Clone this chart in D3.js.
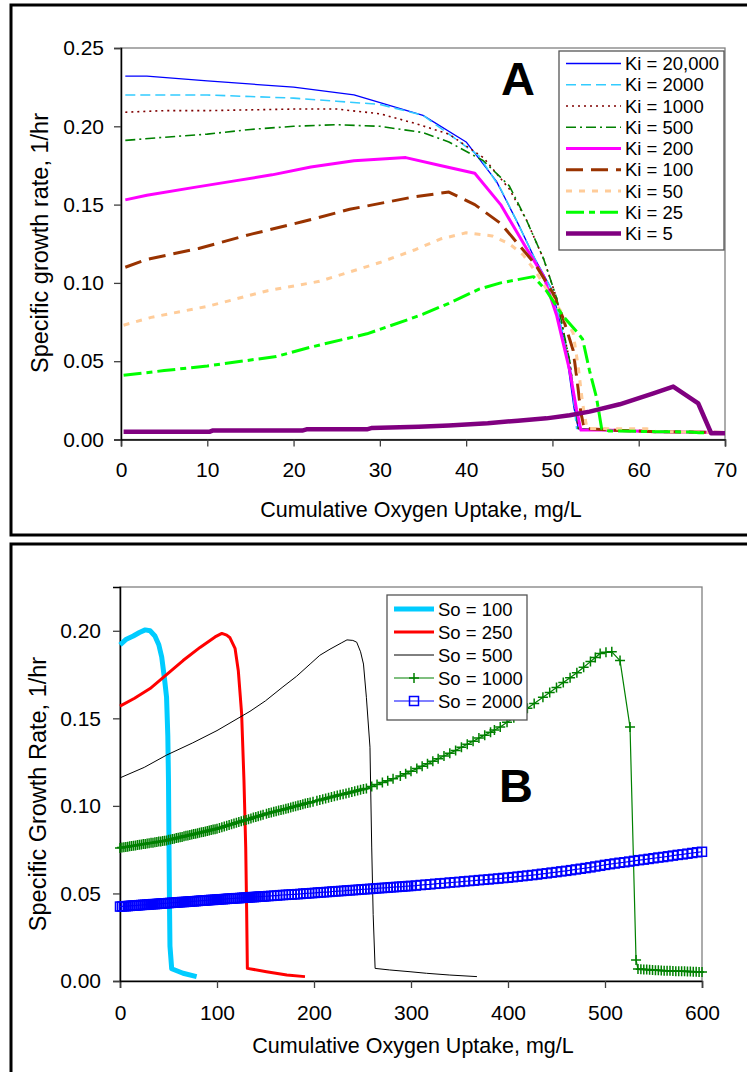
<!DOCTYPE html>
<html>
<head>
<meta charset="utf-8">
<script src="https://cdn.jsdelivr.net/npm/d3@7/dist/d3.min.js"></script>
<style>
    body { margin: 0; background: #fff; }
    svg text { font-family: "Liberation Sans", Arial, sans-serif; fill: #000; }
</style>
</head>
<body>
<div id="chart"></div>
<script>
"use strict";

// ---- panel A : growth rate vs cumulative O2 uptake for several Ki ----
var kiLabels = ["Ki = 20,000", "Ki = 2000", "Ki = 1000", "Ki = 500", "Ki = 200",
                "Ki = 100", "Ki = 50", "Ki = 25", "Ki = 5"];

var ki20000 = [[0.5,0.232],[3,0.232],[10,0.229],[20,0.225],[27,0.220],[35,0.207],[40,0.190],[43.5,0.165],
    [46,0.138],[48,0.115],[50,0.095],[51.5,0.060],[52.5,0.020],[53,0.007],[56,0.006],[62,0.005],[70,0.0045]];
var ki2000 = [[0.5,0.220],[5,0.220],[10,0.220],[15,0.219],[20,0.218],[25,0.216],[30,0.214],[35,0.207],
    [38,0.195],[41.5,0.181],[44,0.160],[46,0.138],[48,0.115],[50,0.095],[52,0.050],[52.8,0.007],[56,0.006],[62,0.005],[70,0.0045]];
var ki1000 = [[0.5,0.209],[5,0.210],[10,0.210],[20,0.211],[25,0.211],[30,0.208],[34,0.202],[38,0.195],
    [42,0.180],[45,0.160],[47,0.140],[49,0.115],[50.5,0.090],[52,0.050],[53,0.007],[56,0.006],[62,0.005],[70,0.0045]];
var ki500 = [[0.5,0.191],[5,0.193],[10,0.195],[15,0.198],[20,0.200],[25,0.201],[30,0.200],[35,0.196],
    [38,0.190],[42,0.178],[45,0.162],[47,0.140],[49,0.115],[50.5,0.090],[52,0.050],[53,0.007],[56,0.006],[62,0.005],[70,0.0045]];
var ki200 = [[0.5,0.153],[3,0.156],[8.5,0.161],[13,0.165],[17.5,0.169],[22,0.174],[27,0.178],[33,0.180],
    [37,0.175],[41,0.170],[44,0.150],[47,0.122],[49,0.104],[50.5,0.079],[52,0.044],[52.8,0.019],[53.3,0.006],[56,0.006],[62,0.005],[70,0.0045]];
var ki100 = [[0.5,0.110],[3,0.115],[9,0.122],[15,0.131],[21,0.139],[26.5,0.147],[34,0.155],[38,0.158],
    [41,0.150],[44,0.138],[46,0.125],[48,0.112],[50,0.094],[51.2,0.078],[52.4,0.057],[52.9,0.036],[53.3,0.017],
    [53.7,0.007],[57,0.006],[62,0.005],[70,0.0045]];
var ki50 = [[0.3,0.073],[3.5,0.078],[10,0.085],[17,0.095],[23,0.101],[30,0.113],[34,0.121],[37,0.128],
    [40,0.132],[43,0.130],[45,0.125],[46.6,0.118],[48.2,0.106],[50,0.090],[51.2,0.080],[52.4,0.068],[53,0.046],
    [53.5,0.023],[54,0.007],[61,0.0068],[62,0.005],[70,0.0045]];
var ki25 = [[0.3,0.041],[5,0.044],[10,0.047],[18,0.053],[22,0.059],[28.5,0.0675],[33.5,0.077],[35,0.080],
    [38,0.087],[41.5,0.096],[44,0.100],[47.8,0.104],[49.3,0.095],[51.2,0.079],[52.8,0.069],[53.5,0.064],
    [54.3,0.044],[55.1,0.027],[55.7,0.007],[56.5,0.0055],[62,0.005],[66,0.0048],[67,0.0043],[70,0.0043]];
var ki5 = [[0.3,0.005],[10.3,0.005],[10.6,0.0057],[21,0.0057],[21.5,0.0065],[28.5,0.0065],[29,0.0073],
    [34.5,0.0082],[38,0.009],[42.5,0.0104],[46,0.012],[49.3,0.0135],[52,0.0155],[54.3,0.0178],[57.8,0.0225],
    [61.7,0.0295],[64,0.0338],[66.9,0.023],[68.4,0.004],[70,0.004]];

var xTicksA = [0, 10, 20, 30, 40, 50, 60, 70];
var yTicksA = [0, 0.05, 0.10, 0.15, 0.20, 0.25];

// ---- panel B : growth rate vs cumulative O2 uptake for several So ----
var soLabels = ["So = 100", "So = 250", "So = 500", "So = 1000", "So = 2000"];

var so100 = [[0,0.192],[6,0.195],[13.7,0.197],[20,0.199],[26,0.2005],[31,0.200],[36,0.197],[40,0.192],
    [43,0.185],[46,0.172],[48,0.162],[49.3,0.140],[50,0.114],[50.5,0.077],[51,0.045],[51.5,0.020],[53.3,0.007],
    [65,0.0044],[79,0.0025]];
var so250 = [[0,0.157],[15,0.1615],[31,0.167],[48,0.175],[65,0.183],[82.5,0.1905],[98,0.1965],[105,0.1985],
    [110,0.1975],[113.4,0.196],[118.6,0.190],[122,0.177],[125.4,0.1525],[127.8,0.1145],[129.6,0.0765],
    [130.6,0.0386],[131.3,0.0072],[151,0.0053],[172,0.0034],[190.7,0.0025]];
var so500 = [[0,0.116],[25,0.122],[48,0.129],[75,0.136],[100,0.143],[134,0.154],[150,0.160],[168,0.168],
    [182,0.174],[196,0.181],[206,0.186],[216.5,0.1895],[228,0.193],[234,0.1948],[240,0.1945],[244,0.1935],
    [248,0.188],[251,0.181],[254,0.162],[257.7,0.1335],[259.5,0.0765],[261,0.038],[263,0.0072],[278,0.0063],
    [299,0.0053],[316,0.0044],[340,0.0034],[368,0.0025]];
var so1000 = [[0,0.0760],[2,0.0762],[4,0.0764],[6,0.0765],[8,0.0767],[10,0.0769],[12,0.0771],[14,0.0772],
    [16,0.0774],[18,0.0776],[20,0.0778],[22,0.0780],[24,0.0782],[26,0.0783],[28,0.0785],[30,0.0787],[32,0.0789],
    [34,0.0790],[36,0.0792],[38,0.0794],[40,0.0796],[42,0.0797],[44,0.0799],[46,0.0801],[48,0.0803],[50,0.0806],
    [52,0.0808],[54,0.0811],[56,0.0813],[58,0.0816],[60,0.0818],[62,0.0821],[64,0.0823],[66,0.0826],[68,0.0829],
    [70,0.0831],[72,0.0834],[74,0.0836],[76,0.0839],[78,0.0841],[80,0.0844],[82,0.0846],[84,0.0849],[86,0.0851],
    [88,0.0854],[90,0.0857],[92,0.0860],[94,0.0862],[96,0.0865],[98,0.0867],[100,0.0870],[102.5,0.0874],
    [105,0.0878],[107.5,0.0882],[110,0.0887],[112.5,0.0891],[115,0.0895],[117.5,0.0899],[120,0.0903],[122.5,0.0908],
    [125,0.0912],[127.5,0.0916],[130,0.0920],[132.5,0.0924],[135,0.0928],[137.5,0.0933],[140,0.0937],[142.5,0.0941],
    [145,0.0945],[147.5,0.0949],[151,0.0955],[153.5,0.0959],[156,0.0962],[158.5,0.0966],[161,0.0969],[163.5,0.0973],
    [166,0.0977],[168.5,0.0980],[171,0.0984],[173.5,0.0987],[176,0.0991],[178.5,0.0995],[181,0.0998],[183.5,0.1002],
    [186,0.1005],[188.5,0.1009],[191,0.1013],[193.5,0.1016],[196,0.1020],[199,0.1024],[203,0.1030],[206,0.1034],
    [209,0.1038],[212,0.1042],[215,0.1047],[218,0.1051],[221,0.1055],[224,0.1059],[227,0.1063],[230,0.1067],
    [233,0.1071],[236,0.1075],[239,0.1079],[242,0.1084],[245,0.1088],[248,0.1092],[251,0.1096],[254,0.1100],
    [259.5,0.1111],[265,0.1122],[270.5,0.1133],[276,0.1144],[281.5,0.1155],[289,0.1170],[294.5,0.1184],[300,0.1198],
    [306,0.1213],[311.5,0.1227],[317,0.1241],[322.5,0.1255],[328,0.1269],[334,0.1285],[340,0.1300],[346,0.1317],
    [352,0.1335],[358,0.1352],[364,0.1369],[370,0.1387],[376,0.1404],[382,0.1421],[386,0.1433],[392,0.1450],
    [399,0.1477],[406,0.1504],[413,0.1531],[420,0.1558],[427,0.1585],[436,0.1620],[443,0.1648],[450,0.1676],
    [457,0.1704],[464,0.1732],[471,0.1760],[478,0.1792],[485,0.1824],[490,0.1847],[495,0.1870],[501,0.1877],
    [507,0.1880],[515.5,0.1830],[525.8,0.1450],[532,0.0120],[534,0.0068],[537,0.0067],[540,0.0066],[543,0.0065],
    [546,0.0064],[549,0.0063],[552,0.0062],[555,0.0061],[558,0.0060],[561,0.0059],[564,0.0059],[567,0.0058],
    [570,0.0057],[573,0.0056],[576,0.0056],[579,0.0055],[582,0.0055],[585,0.0054],[588,0.0054],[591,0.0053],
    [594,0.0053],[597,0.0052],[600,0.0052]];
var so2000 = [[0,0.0425],[2,0.0426],[4,0.0427],[6,0.0427],[8,0.0428],[10,0.0429],[12,0.0430],[14,0.0431],
    [16,0.0431],[18,0.0432],[20,0.0433],[22,0.0434],[24,0.0435],[26,0.0435],[28,0.0436],[30,0.0437],[32,0.0438],
    [34,0.0439],[36,0.0439],[38,0.0440],[40,0.0441],[42,0.0442],[44,0.0443],[46,0.0443],[48,0.0444],[50,0.0445],
    [52,0.0446],[54,0.0447],[56,0.0447],[58,0.0448],[60,0.0449],[62,0.0450],[64,0.0451],[66,0.0451],[68,0.0452],
    [70,0.0453],[72,0.0454],[74,0.0455],[76,0.0455],[78,0.0456],[80,0.0457],[82,0.0458],[84,0.0459],[86,0.0459],
    [88,0.0460],[90,0.0461],[92,0.0462],[94,0.0463],[96,0.0463],[98,0.0464],[100,0.0465],[102,0.0466],[104,0.0467],
    [106,0.0467],[108,0.0468],[110,0.0469],[112,0.0470],[114,0.0470],[116,0.0471],[118,0.0472],[120,0.0473],
    [122,0.0473],[124,0.0474],[126,0.0475],[128,0.0476],[130,0.0476],[132,0.0477],[134,0.0478],[136,0.0479],
    [138,0.0479],[140,0.0480],[142,0.0481],[144,0.0482],[146,0.0482],[148,0.0483],[150,0.0484],[153,0.0485],
    [156,0.0486],[159,0.0487],[162,0.0488],[165,0.0490],[168,0.0491],[171,0.0492],[174,0.0493],[177,0.0494],
    [180,0.0495],[183,0.0496],[186,0.0497],[189,0.0499],[192,0.0500],[195,0.0501],[198,0.0502],[201,0.0503],
    [204,0.0505],[207,0.0506],[210,0.0507],[213,0.0508],[216,0.0509],[219,0.0511],[222,0.0512],[225,0.0513],
    [228,0.0514],[231,0.0515],[234,0.0517],[237,0.0518],[240,0.0519],[243,0.0520],[246,0.0521],[249,0.0523],
    [252,0.0524],[255,0.0525],[258,0.0526],[261,0.0527],[264,0.0529],[267,0.0530],[270,0.0531],[273,0.0532],
    [276,0.0533],[279,0.0535],[282,0.0536],[285,0.0537],[288,0.0538],[291,0.0539],[294,0.0541],[297,0.0542],
    [300,0.0543],[305,0.0545],[310,0.0548],[315,0.0550],[320,0.0552],[325,0.0555],[330,0.0557],[335,0.0559],
    [340,0.0562],[345,0.0564],[350,0.0566],[355,0.0569],[360,0.0571],[365,0.0573],[370,0.0576],[375,0.0578],
    [380,0.0580],[385,0.0583],[390,0.0585],[395,0.0588],[400,0.0590],[405,0.0593],[410,0.0596],[415,0.0599],
    [420,0.0602],[425,0.0605],[430,0.0608],[435,0.0612],[440,0.0615],[445,0.0619],[450,0.0622],[455,0.0626],
    [460,0.0629],[465,0.0633],[470,0.0637],[475,0.0641],[480,0.0645],[485,0.0649],[490,0.0654],[495,0.0658],
    [500,0.0663],[505,0.0667],[510,0.0671],[515,0.0675],[520,0.0678],[525,0.0682],[530,0.0686],[535,0.0690],
    [540,0.0693],[545,0.0697],[550,0.0701],[555,0.0705],[560,0.0708],[565,0.0712],[570,0.0716],[575,0.0720],
    [580,0.0723],[585,0.0727],[590,0.0731],[595,0.0735],[600,0.0738]];

var xTicksB = [0, 100, 200, 300, 400, 500, 600];
var yTicksB = [0, 0.05, 0.10, 0.15, 0.20];

// styles for each series (kept apart from the values)
var kiStyles = [
    {data: ki20000, color: "#0000FF", width: 1.3, dash: null},
    {data: ki2000,  color: "#33CCFF", width: 1.6, dash: "10,5"},
    {data: ki1000,  color: "#800000", width: 1.6, dash: "2,4"},
    {data: ki500,   color: "#008000", width: 1.6, dash: "10,4,2,4"},
    {data: ki200,   color: "#FF00FF", width: 3,   dash: null},
    {data: ki100,   color: "#993300", width: 3,   dash: "17,8"},
    {data: ki50,    color: "#FFCC99", width: 3,   dash: "6,7"},
    {data: ki25,    color: "#00FF00", width: 3,   dash: "18,5,6,5"},
    {data: ki5,     color: "#800080", width: 4.5, dash: null}
];
var soStyles = [
    {data: so100,  color: "#00CCFF", width: 5,   marker: null},
    {data: so250,  color: "#FF0000", width: 3,   marker: null},
    {data: so500,  color: "#000000", width: 1,   marker: null},
    {data: so1000, color: "#008000", width: 1.2, marker: "plus"},
    {data: so2000, color: "#0000FF", width: 1.2, marker: "square"}
];

var svg = d3.select("#chart").append("svg")
    .attr("width", 747)
    .attr("height", 1072);

// outer frames around the two panels
svg.append("rect")
    .attr("x", 11).attr("y", 5).attr("width", 760).attr("height", 530)
    .attr("fill", "none").attr("stroke", "#000").attr("stroke-width", 3);
svg.append("rect")
    .attr("x", 11).attr("y", 544).attr("width", 760).attr("height", 540)
    .attr("fill", "none").attr("stroke", "#000").attr("stroke-width", 3);

function drawAxes(g, x, y, opts) {
    var x0 = x.range()[0], x1 = x.range()[1];
    var y0 = y.range()[0], y1 = y.range()[1];

    // plot area border (gray top and right)
    g.append("rect")
        .attr("x", x0).attr("y", y1)
        .attr("width", x1 - x0).attr("height", y0 - y1)
        .attr("fill", "none").attr("stroke", "#808080").attr("stroke-width", 1.3);

    var xAxis = g.append("g")
        .attr("transform", "translate(0," + y0 + ")")
        .call(d3.axisBottom(x).tickValues(opts.xTicks).tickSizeOuter(0)
            .tickSize(7).tickPadding(opts.xPad).tickFormat(d3.format("d")));
    var yAxis = g.append("g")
        .attr("transform", "translate(" + x0 + ",0)")
        .call(d3.axisLeft(y).tickValues(opts.yTicks).tickSizeOuter(0)
            .tickSize(7).tickPadding(opts.yPad).tickFormat(d3.format(".2f")));

    [xAxis, yAxis].forEach(function (a) {
        a.select(".domain").attr("stroke", "#000").attr("stroke-width", 1.5);
        a.selectAll(".tick line").attr("stroke", "#404040").attr("stroke-width", 1.3);
        a.selectAll(".tick text")
            .attr("fill", "#000")
            .style("font-size", "21px")
            .style("font-family", '"Liberation Sans", Arial, sans-serif');
    });

    // axis titles
    g.append("text")
        .attr("x", opts.xTitleX).attr("y", opts.xTitleY)
        .attr("text-anchor", "middle")
        .style("font-size", "21.5px")
        .text("Cumulative Oxygen Uptake, mg/L");
    g.append("text")
        .attr("transform", "translate(" + opts.yTitleX + "," + opts.yTitleY + ") rotate(-90)")
        .attr("text-anchor", "middle")
        .attr("dy", "0.35em")
        .style("font-size", "23.5px")
        .text(opts.yTitle);
}

// ================= panel A =================
var xA = d3.scaleLinear().domain([0, 70]).range([121, 725]);
var yA = d3.scaleLinear().domain([0, 0.25]).range([439.5, 48]);
var gA = svg.append("g").attr("class", "panelA");

drawAxes(gA, xA, yA, {
    xTicks: xTicksA, yTicks: yTicksA, xPad: 16, yPad: 10,
    xTitleX: 421, xTitleY: 517, yTitleX: 40, yTitleY: 243,
    yTitle: "Specific growth rate, 1/hr"
});

var lineA = d3.line()
    .x(function (d) { return xA(d[0]); })
    .y(function (d) { return yA(d[1]); });

gA.selectAll("path.kiLine")
    .data(kiStyles)
    .enter()
    .append("path")
    .attr("class", "kiLine")
    .attr("d", function (d) { return lineA(d.data); })
    .attr("fill", "none")
    .attr("stroke", function (d) { return d.color; })
    .attr("stroke-width", function (d) { return d.width; })
    .attr("stroke-dasharray", function (d) { return d.dash; })
    .attr("stroke-linejoin", "round");

// big panel letter
gA.append("text")
    .attr("x", 518).attr("y", 95)
    .attr("text-anchor", "middle")
    .style("font-size", "47px").style("font-weight", "bold")
    .text("A");

// legend A
var legA = gA.append("g").attr("class", "legendA");
legA.append("rect")
    .attr("x", 559).attr("y", 51).attr("width", 165).attr("height", 199)
    .attr("fill", "#fff").attr("stroke", "#555").attr("stroke-width", 1.3);
var legARows = legA.selectAll("g.row")
    .data(kiStyles)
    .enter()
    .append("g")
    .attr("class", "row")
    .attr("transform", function (d, i) { return "translate(0," + (63.5 + i * 21.25) + ")"; });
legARows.append("line")
    .attr("x1", 566).attr("x2", 621)
    .attr("stroke", function (d) { return d.color; })
    .attr("stroke-width", function (d) { return d.width; })
    .attr("stroke-dasharray", function (d) { return d.dash; });
legARows.append("text")
    .attr("x", 625).attr("dy", "0.36em")
    .style("font-size", "18.5px")
    .text(function (d, i) { return kiLabels[i]; });

// ================= panel B =================
var xB = d3.scaleLinear().domain([0, 600]).range([120, 702]);
var yB = d3.scaleLinear().domain([0, 0.225]).range([981, 587]);
var gB = svg.append("g").attr("class", "panelB");

drawAxes(gB, xB, yB, {
    xTicks: xTicksB, yTicks: yTicksB, xPad: 17, yPad: 12,
    xTitleX: 413, xTitleY: 1053, yTitleX: 38, yTitleY: 794,
    yTitle: "Specific Growth Rate, 1/hr"
});

var lineB = d3.line()
    .x(function (d) { return xB(d[0]); })
    .y(function (d) { return yB(d[1]); });

function drawMarker(sel, type, color) {
    if (type === "plus") {
        sel.append("path")
            .attr("d", "M-5,0H5M0,-5V5")
            .attr("stroke", color).attr("stroke-width", 1.5).attr("fill", "none");
    } else if (type === "square") {
        sel.append("rect")
            .attr("x", -4.5).attr("y", -4.5).attr("width", 9).attr("height", 9)
            .attr("stroke", color).attr("stroke-width", 1.5).attr("fill", "none");
    }
}

soStyles.forEach(function (s) {
    gB.append("path")
        .attr("d", lineB(s.data))
        .attr("fill", "none")
        .attr("stroke", s.color)
        .attr("stroke-width", s.width)
        .attr("stroke-linejoin", "round");
    if (s.marker) {
        gB.append("g").selectAll("g")
            .data(s.data)
            .enter()
            .append("g")
            .attr("transform", function (d) { return "translate(" + xB(d[0]) + "," + yB(d[1]) + ")"; })
            .each(function () { drawMarker(d3.select(this), s.marker, s.color); });
    }
});

gB.append("text")
    .attr("x", 516).attr("y", 802)
    .attr("text-anchor", "middle")
    .style("font-size", "47px").style("font-weight", "bold")
    .text("B");

// legend B
var legB = gB.append("g").attr("class", "legendB");
legB.append("rect")
    .attr("x", 387).attr("y", 595).attr("width", 140).attr("height", 125)
    .attr("fill", "#fff").attr("stroke", "#555").attr("stroke-width", 1.3);
var legBRows = legB.selectAll("g.row")
    .data(soStyles)
    .enter()
    .append("g")
    .attr("class", "row")
    .attr("transform", function (d, i) { return "translate(0," + (609 + i * 23) + ")"; });
legBRows.append("line")
    .attr("x1", 394).attr("x2", 434)
    .attr("stroke", function (d) { return d.color; })
    .attr("stroke-width", function (d) { return d.width; });
legBRows.append("g")
    .attr("transform", "translate(414,0)")
    .each(function (d) { drawMarker(d3.select(this), d.marker, d.color); });
legBRows.append("text")
    .attr("x", 438).attr("dy", "0.36em")
    .style("font-size", "18.5px")
    .text(function (d, i) { return soLabels[i]; });
</script>
</body>
</html>
